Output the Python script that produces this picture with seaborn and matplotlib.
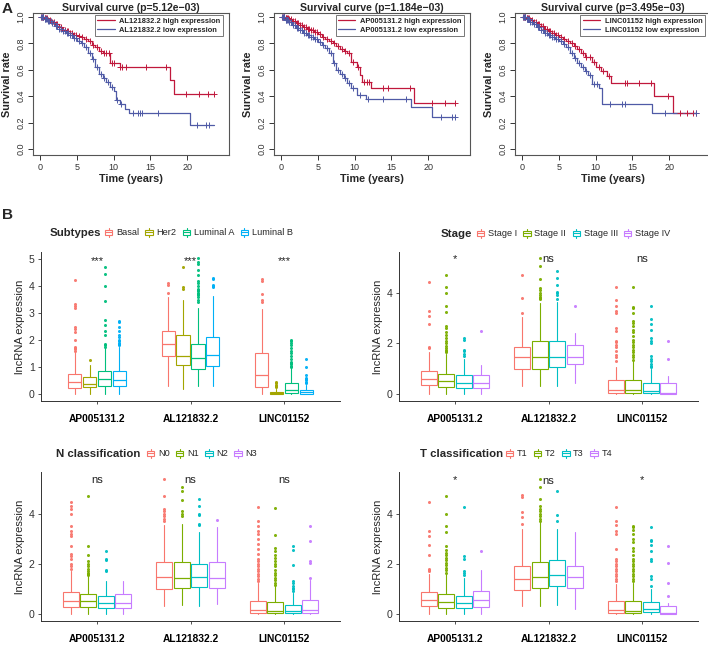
import numpy as np
import pandas as pd
import matplotlib
matplotlib.use("Agg")
import matplotlib.pyplot as plt
import seaborn as sns
from matplotlib.patches import Patch, Rectangle
from matplotlib.lines import Line2D
from matplotlib.legend_handler import HandlerBase

# ---------------- survival curves (A) ----------------
KM_GENES = ["AL121832.2", "AP005131.2", "LINC01152"]
KM_PVALS = ["5.12e\u221203", "1.184e\u221203", "3.495e\u221203"]
KM_END = [23.6, 23.6, 23.6]

AL_HIGH_T = [0, 0.5, 1.0, 1.5, 2.0, 2.5, 3.0, 3.5, 4.0, 4.5, 5.0, 5.5, 6.0, 6.5, 7.0, 7.5, 8.0, 8.5, 9.5, 10.8, 17.7, 18.2]
AL_HIGH_S = [1.0, 0.99, 0.975, 0.96, 0.945, 0.925, 0.905, 0.89, 0.875, 0.865, 0.855, 0.85, 0.83, 0.815, 0.79, 0.77, 0.745, 0.725, 0.655, 0.62, 0.52, 0.415]
AL_HIGH_C = [0.1, 0.2, 0.3, 0.4, 0.6, 0.7, 0.8, 0.9, 1.1, 1.3, 1.6, 1.8, 2.1, 2.3, 2.6, 2.8, 3.1, 3.3, 3.6, 3.8, 4.1, 4.3,
             4.6, 4.8, 5.2, 5.7, 6.2, 6.7, 7.2, 7.7, 8.2, 8.7, 9.0, 9.3, 9.8, 10.1, 10.9, 11.1, 11.7, 14.4, 17.1, 19.8, 21.6, 22.8, 23.6]
AL_LOW_T = [0, 0.5, 1.0, 1.5, 2.0, 2.5, 3.0, 3.5, 4.0, 4.5, 5.0, 5.5, 6.0, 6.5, 7.0, 7.5, 8.0, 8.5, 9.0, 9.5, 10.0, 10.3, 10.8, 11.5, 12.1, 20.4]
AL_LOW_S = [1.0, 0.985, 0.97, 0.955, 0.935, 0.91, 0.89, 0.875, 0.86, 0.84, 0.82, 0.8, 0.77, 0.73, 0.68, 0.62, 0.57, 0.54, 0.51, 0.47, 0.44, 0.37, 0.34, 0.3, 0.27, 0.18]
AL_LOW_C = [0.1, 0.2, 0.3, 0.4, 0.6, 0.7, 0.8, 0.9, 1.1, 1.2, 1.4, 1.6, 1.8, 2.1, 2.3, 2.6, 2.8, 3.1, 3.3, 3.6, 3.8, 4.1,
            4.3, 4.6, 4.8, 5.2, 5.7, 6.2, 6.7, 7.2, 7.7, 8.2, 8.7, 9.2, 9.7, 10.5, 11.0, 12.6, 13.3, 13.6, 13.9, 16.0, 21.3, 22.5, 23.0]

AP_HIGH_T = [0, 0.5, 1, 1.5, 2, 2.5, 3, 3.5, 4, 4.5, 5, 5.5, 6, 6.5, 7, 7.5, 8, 8.5, 9, 9.5, 10.3, 10.7, 11.0, 12.2, 18.1]
AP_HIGH_S = [1, 0.995, 0.985, 0.97, 0.955, 0.94, 0.925, 0.91, 0.9, 0.885, 0.87, 0.85, 0.83, 0.815, 0.8, 0.78, 0.76, 0.745, 0.73, 0.66, 0.62, 0.56, 0.51, 0.46, 0.35]
AP_HIGH_C = [0.1, 0.2, 0.3, 0.4, 0.6, 0.7, 0.8, 0.9, 1.1, 1.3, 1.6, 1.8, 2.1, 2.3, 2.6, 2.8, 3.1, 3.3, 3.6, 3.8, 4.1, 4.3,
             4.6, 4.8, 5.2, 5.7, 6.2, 6.7, 7.2, 7.7, 8.2, 8.7, 9.2, 9.8, 10.5, 11.3, 11.7, 12.0, 13.9, 14.5, 17.5, 20.5, 22.3, 23.6]
AP_LOW_T = [0, 0.5, 1, 1.5, 2, 2.5, 3, 3.5, 4, 4.5, 5, 5.5, 6, 6.5, 7, 7.5, 8, 8.5, 9, 9.5, 10.3, 11.6, 17.7, 20.5]
AP_LOW_S = [1, 0.98, 0.96, 0.94, 0.92, 0.9, 0.88, 0.86, 0.845, 0.83, 0.81, 0.79, 0.765, 0.73, 0.65, 0.6, 0.57, 0.535, 0.5, 0.465, 0.41, 0.38, 0.32, 0.24]
AP_LOW_C = [0.1, 0.2, 0.3, 0.4, 0.6, 0.7, 0.8, 0.9, 1.1, 1.3, 1.6, 1.8, 2.1, 2.3, 2.6, 2.8, 3.1, 3.3, 3.6, 3.8, 4.1, 4.3,
            4.6, 4.8, 5.2, 5.7, 6.2, 6.7, 7.2, 7.7, 8.2, 8.7, 9.2, 9.7, 10.7, 11.8, 13.8, 17.0, 21.8, 23.3, 23.6]

LI_HIGH_T = [0, 0.5, 1, 1.5, 2, 2.5, 3, 3.5, 4, 4.5, 5, 5.5, 6, 6.5, 7, 7.5, 8, 8.5, 9.5, 10, 10.7, 11.5, 12.1, 18.0, 20.5]
LI_HIGH_S = [1, 0.99, 0.975, 0.96, 0.945, 0.93, 0.91, 0.895, 0.88, 0.865, 0.85, 0.835, 0.82, 0.8, 0.78, 0.755, 0.73, 0.7, 0.66, 0.62, 0.59, 0.55, 0.5, 0.4, 0.27]
LI_HIGH_C = [0.1, 0.2, 0.3, 0.4, 0.6, 0.7, 0.8, 0.9, 1.1, 1.3, 1.6, 1.8, 2.1, 2.3, 2.6, 2.8, 3.1, 3.3, 3.6, 3.8, 4.1, 4.3,
             4.6, 4.8, 5.2, 5.7, 6.2, 6.7, 7.2, 7.7, 8.2, 8.7, 9.2, 9.8, 10.4, 11.0, 11.8, 14.0, 14.3, 15.9, 17.5, 19.8, 21.5, 22.4, 23.2, 23.6]
LI_LOW_T = [0, 0.5, 1, 1.5, 2, 2.5, 3, 3.5, 4, 4.5, 5, 5.5, 6, 6.5, 7, 7.5, 8, 8.5, 9, 9.5, 10.5, 10.8, 17.7]
LI_LOW_S = [1, 0.985, 0.965, 0.945, 0.925, 0.9, 0.88, 0.865, 0.85, 0.83, 0.815, 0.795, 0.77, 0.73, 0.69, 0.655, 0.62, 0.59, 0.56, 0.49, 0.46, 0.34, 0.27]
LI_LOW_C = [0.1, 0.2, 0.3, 0.4, 0.6, 0.7, 0.8, 0.9, 1.1, 1.3, 1.6, 1.8, 2.1, 2.3, 2.6, 2.8, 3.1, 3.3, 3.6, 3.8, 4.1, 4.3,
            4.6, 4.8, 5.2, 5.7, 6.2, 6.7, 7.2, 7.7, 8.2, 8.7, 9.2, 9.7, 10.2, 12.0, 13.6, 14.0, 19.5, 23.6]

KM_CURVES = [
    [(AL_HIGH_T, AL_HIGH_S, AL_HIGH_C), (AL_LOW_T, AL_LOW_S, AL_LOW_C)],
    [(AP_HIGH_T, AP_HIGH_S, AP_HIGH_C), (AP_LOW_T, AP_LOW_S, AP_LOW_C)],
    [(LI_HIGH_T, LI_HIGH_S, LI_HIGH_C), (LI_LOW_T, LI_LOW_S, LI_LOW_C)],
]
KM_COLORS = ["#C0183C", "#4F5AA6"]

# ---------------- box plots (B) ----------------
GENES = ["AP005131.2", "AL121832.2", "LINC01152"]

SUB_LEVELS = ["Basal", "Her2", "Luminal A", "Luminal B"]
SUB_MED = [[0.43, 0.38, 0.55, 0.52], [1.85, 1.42, 1.35, 1.45], [0.70, 0.04, 0.15, 0.07]]
SUB_Q1 = [[0.22, 0.25, 0.28, 0.30], [1.40, 1.06, 0.92, 1.05], [0.27, 0.00, 0.04, 0.00]]
SUB_Q3 = [[0.74, 0.62, 0.84, 0.84], [2.32, 2.17, 1.85, 2.10], [1.50, 0.08, 0.42, 0.16]]
SUB_LO = [[0.0, 0.0, 0.0, 0.0], [0.30, 0.20, 0.30, 0.30], [0.0, 0.0, 0.0, 0.0]]
SUB_HI = [[1.58, 1.08, 1.70, 1.75], [3.60, 3.50, 3.20, 3.62], [3.15, 0.20, 0.95, 0.35]]
SUB_OUT = [
    [[1.6, 1.65, 1.7, 1.75, 2.0, 2.3, 2.4, 2.5, 3.2, 3.25, 3.33, 4.23], [1.25],
     [1.75, 1.8, 1.85, 2.2, 2.35, 2.55, 2.75, 3.45, 4.0, 4.45, 4.7],
     [1.8, 1.85, 1.9, 1.95, 2.0, 2.1, 2.2, 2.35, 2.5, 2.65, 2.7]],
    [[3.75, 4.05, 4.1], [3.9, 3.95, 4.7],
     [3.4, 3.5, 3.6, 3.65, 3.7, 3.75, 3.8, 3.85, 3.9, 4.0, 4.1, 4.2, 4.4, 4.6, 4.8, 4.9, 5.05],
     [3.95, 4.0, 4.05, 4.25, 4.3]],
    [[3.4, 3.5, 3.7, 4.2, 4.25], [0.25, 0.3, 0.35, 0.4, 0.43],
     [1.0, 1.05, 1.1, 1.15, 1.2, 1.3, 1.4, 1.5, 1.6, 1.7, 1.8, 1.9, 1.95, 2.0],
     [0.4, 0.45, 0.5, 0.55, 0.6, 0.7, 1.0, 1.3]],
]
SUB_SIG = ["***", "***", "***"]

STAGE_LEVELS = ["Stage I", "Stage II", "Stage III", "Stage IV"]
STAGE_MED = [[0.60, 0.50, 0.45, 0.42], [1.47, 1.47, 1.47, 1.45], [0.15, 0.15, 0.10, 0.03]]
STAGE_Q1 = [[0.34, 0.28, 0.24, 0.24], [1.00, 1.00, 1.05, 1.19], [0.05, 0.05, 0.03, 0.00]]
STAGE_Q3 = [[0.92, 0.80, 0.74, 0.74], [1.87, 2.10, 2.10, 1.92], [0.55, 0.55, 0.45, 0.43]]
STAGE_LO = [[0.0, 0.0, 0.0, 0.0], [0.30, 0.30, 0.30, 0.45], [0.0, 0.0, 0.0, 0.0]]
STAGE_HI = [[1.65, 1.60, 1.40, 1.15], [3.05, 3.60, 3.65, 2.40], [1.05, 1.30, 1.00, 0.70]]
STAGE_OUT = [
    [[1.8, 1.85, 2.75, 3.1, 3.3, 4.45],
     [1.65, 1.7, 1.75, 1.8, 1.9, 2.0, 2.1, 2.2, 2.35, 2.45, 2.6, 2.7, 3.25, 3.5, 4.0, 4.25, 4.7],
     [1.5, 1.6, 1.7, 1.75, 2.15, 2.2], [2.5]],
    [[3.2, 3.8, 4.7], [3.75, 3.8, 3.85, 3.9, 4.0, 4.1, 4.2, 4.55, 5.05, 5.4],
     [3.75, 3.9, 4.0, 4.05, 4.3, 4.6, 4.85], [3.5]],
    [[1.3, 1.45, 1.55, 1.7, 1.85, 1.95, 2.05, 2.1, 2.5, 2.6, 3.2, 3.3, 3.5, 3.7, 4.25],
     [1.35, 1.45, 1.55, 1.65, 1.75, 1.85, 1.95, 2.05, 2.15, 2.3, 2.45, 2.55, 2.7, 2.8, 2.9, 3.2, 3.4, 3.45, 4.25],
     [1.05, 1.1, 1.2, 1.3, 1.4, 1.5, 2.0, 2.1, 2.2, 2.55, 2.75, 2.95, 3.5], [1.38, 2.1]],
]
STAGE_SIG = ["*", "ns", "ns"]

N_LEVELS = ["N0", "N1", "N2", "N3"]
N_MED = [[0.53, 0.50, 0.43, 0.45], [1.47, 1.43, 1.47, 1.43], [0.15, 0.13, 0.10, 0.15]]
N_Q1 = [[0.26, 0.26, 0.22, 0.24], [0.98, 1.02, 1.06, 1.03], [0.04, 0.04, 0.02, 0.04]]
N_Q3 = [[0.86, 0.78, 0.73, 0.78], [2.06, 2.06, 2.00, 2.08], [0.53, 0.46, 0.35, 0.57]]
N_LO = [[0.0, 0.0, 0.0, 0.0], [0.30, 0.35, 0.30, 0.38], [0.0, 0.0, 0.0, 0.0]]
N_HI = [[1.70, 1.50, 1.30, 1.30], [3.55, 3.60, 3.25, 3.45], [1.25, 1.10, 0.85, 1.35]]
N_OUT = [
    [[1.8, 1.9, 2.0, 2.2, 2.3, 2.4, 2.7, 3.1, 3.2, 3.3, 3.5, 4.0, 4.2, 4.3, 4.45],
     [1.55, 1.6, 1.65, 1.7, 1.8, 1.9, 2.0, 2.1, 2.35, 2.7, 4.7],
     [1.7, 1.75, 2.15, 2.2, 2.5], []],
    [[3.7, 3.8, 3.9, 4.0, 4.1, 4.2, 4.7, 5.4], [3.9, 4.0, 4.1, 4.55, 4.9, 5.05],
     [3.55, 3.6, 3.95, 4.0, 4.3, 4.6], [3.75]],
    [[1.3, 1.4, 1.5, 1.6, 1.7, 1.8, 1.9, 2.0, 2.1, 2.2, 2.4, 2.6, 2.8, 3.0, 3.2, 3.3, 3.5, 3.7, 4.25],
     [1.15, 1.25, 1.35, 1.45, 1.55, 1.65, 1.75, 1.9, 2.0, 2.1, 2.25, 2.35, 2.5, 2.65, 3.15, 4.22],
     [0.9, 1.0, 1.05, 1.1, 1.25, 1.3, 1.95, 2.55, 2.7], [1.45, 2.05, 2.1, 2.9, 3.5]],
]
N_SIG = ["ns", "ns", "ns"]

T_LEVELS = ["T1", "T2", "T3", "T4"]
T_MED = [[0.57, 0.48, 0.45, 0.55], [1.40, 1.47, 1.57, 1.47], [0.15, 0.13, 0.20, 0.04]]
T_Q1 = [[0.33, 0.25, 0.22, 0.29], [0.95, 1.03, 1.12, 1.02], [0.04, 0.04, 0.07, 0.00]]
T_Q3 = [[0.86, 0.78, 0.73, 0.90], [1.92, 2.08, 2.16, 1.92], [0.53, 0.53, 0.48, 0.33]]
T_LO = [[0.0, 0.0, 0.0, 0.0], [0.30, 0.30, 0.35, 0.20], [0.0, 0.0, 0.0, 0.0]]
T_HI = [[1.60, 1.60, 1.45, 1.75], [3.40, 3.65, 3.40, 3.27], [1.20, 1.25, 1.00, 0.45]]
T_OUT = [
    [[1.7, 1.75, 1.8, 2.35, 2.75, 3.1, 3.3, 4.45],
     [1.65, 1.75, 1.85, 1.95, 2.05, 2.15, 2.25, 2.35, 2.45, 2.55, 2.7, 3.25, 3.5, 4.0, 4.7],
     [1.55, 1.65, 1.7, 2.2, 2.3, 4.25], [2.5]],
    [[3.6, 3.85, 4.05, 4.65, 4.75], [3.7, 3.8, 3.9, 4.0, 4.1, 4.2, 4.3, 4.6, 5.05, 5.4],
     [3.7, 3.95, 4.9], []],
    [[1.3, 1.4, 1.5, 1.6, 1.7, 1.8, 1.9, 2.0, 2.1, 2.2, 2.6, 3.2, 3.3, 3.55, 3.7, 4.25],
     [1.3, 1.4, 1.5, 1.6, 1.7, 1.8, 1.9, 2.0, 2.1, 2.2, 2.35, 2.5, 2.65, 2.85, 3.0, 3.2, 3.35, 3.45, 3.5],
     [1.1, 1.4, 1.5, 2.1, 2.2, 2.5, 2.75, 2.9, 2.95, 3.45], [0.7, 1.25, 2.05, 2.7]],
]
T_SIG = ["*", "ns", "*"]

SUB_COLORS = ["#F8766D", "#A3A500", "#00BF7D", "#00B0F6"]
STD_COLORS = ["#F8766D", "#7CAE00", "#00BFC4", "#C77CFF"]


class BoxKey(HandlerBase):
    def create_artists(self, legend, orig_handle, xdescent, ydescent, width, height, fontsize, trans):
        c = orig_handle.get_edgecolor()
        x0 = -xdescent + width * 0.1
        w = width * 0.8
        y0 = -ydescent + height * 0.15
        h = height * 0.7
        xm = x0 + w / 2
        arts = [
            Rectangle((x0, y0), w, h, facecolor="white", edgecolor=c, lw=0.8, transform=trans),
            Line2D([x0, x0 + w], [y0 + h / 2] * 2, color=c, lw=0.8, transform=trans),
            Line2D([xm, xm], [-ydescent - height * 0.1, y0], color=c, lw=0.8, transform=trans),
            Line2D([xm, xm], [y0 + h, -ydescent + height * 1.1], color=c, lw=0.8, transform=trans),
        ]
        return arts


sns.set_theme(style="white")
plt.rcParams["font.family"] = ["Liberation Sans", "DejaVu Sans"]
plt.rcParams["axes.unicode_minus"] = True

W, H = 708, 646
fig = plt.figure(figsize=(W / 100, H / 100), dpi=100)


def fig_rect(left, right, top, bottom):
    return [left / W, (H - bottom) / H, (right - left) / W, (bottom - top) / H]


# ---- panel A ----
km_lefts = [33, 274, 515]
for i in range(3):
    ax = fig.add_axes(fig_rect(km_lefts[i], km_lefts[i] + 196, 13, 155))
    labels = [KM_GENES[i] + " high expression", KM_GENES[i] + " low expression"]
    for j, (t, s, c) in enumerate(KM_CURVES[i]):
        df = pd.DataFrame({"time": list(t) + [KM_END[i]], "surv": list(s) + [s[-1]]})
        sns.lineplot(data=df, x="time", y="surv", drawstyle="steps-post", estimator=None,
                     color=KM_COLORS[j], lw=0.9, ax=ax, label=labels[j])
        idx = np.searchsorted(np.array(t), np.array(c), side="right") - 1
        cens = pd.DataFrame({"time": c, "surv": np.array(s)[idx]})
        sns.scatterplot(data=cens, x="time", y="surv", marker="+", s=16, linewidth=0.7,
                        color=KM_COLORS[j], ax=ax, legend=False, zorder=3)
    ax.set_xlim(-1.0, 25.7)
    ax.set_ylim(-0.045, 1.03)
    ax.set_xticks([0, 5, 10, 15, 20])
    ax.set_yticks([0.0, 0.2, 0.4, 0.6, 0.8, 1.0])
    ax.set_yticklabels(["0.0", "0.2", "0.4", "0.6", "0.8", "1.0"], rotation=90, va="center")
    ax.tick_params(axis="both", which="both", direction="out", length=3.5, width=0.7,
                   labelsize=6.5, labelcolor="#333333", color="#333333", left=True, bottom=True, pad=2)
    for sp in ax.spines.values():
        sp.set_visible(True)
        sp.set_color("#555555")
        sp.set_linewidth(0.8)
    ax.set_xlabel("Time (years)", fontsize=7.8, fontweight="bold", labelpad=2)
    ax.set_ylabel("Survival rate", fontsize=7.8, fontweight="bold", labelpad=3)
    ax.set_title("Survival curve (p=" + KM_PVALS[i] + ")", fontsize=7.6, fontweight="bold", pad=1.5)
    leg = ax.legend(loc="upper right", bbox_to_anchor=(0.97, 0.985), fontsize=5.4, frameon=True,
                    fancybox=False, borderpad=0.35, handlelength=2.3, handletextpad=0.6,
                    labelspacing=0.2, borderaxespad=0)
    leg.get_frame().set_edgecolor("#555555")
    leg.get_frame().set_linewidth(0.7)
    for txt in leg.get_texts():
        txt.set_fontweight("bold")
    ax.grid(False)

fig.text(2 / W, 1 - 9 / H, "A", fontsize=11, fontweight="bold", va="center", ha="left")
fig.text(2 / W, 1 - 215 / H, "B", fontsize=11, fontweight="bold", va="center", ha="left")

# ---- panel B ----
BOX_PANELS = [
    dict(rect=(41, 340, 252, 401), ylim=(-0.26, 5.26), yt=[0, 1, 2, 3, 4, 5], title="Subtypes",
         levels=SUB_LEVELS, colors=SUB_COLORS, med=SUB_MED, q1=SUB_Q1, q3=SUB_Q3, lo=SUB_LO, hi=SUB_HI,
         out=SUB_OUT, sig=SUB_SIG, sig_y=4.8, step=0.16, width=0.14, tx=50, lx=104, ly=233),
    dict(rect=(399, 698, 252, 401), ylim=(-0.28, 5.62), yt=[0, 2, 4], title="Stage",
         levels=STAGE_LEVELS, colors=STD_COLORS, med=STAGE_MED, q1=STAGE_Q1, q3=STAGE_Q3, lo=STAGE_LO,
         hi=STAGE_HI, out=STAGE_OUT, sig=STAGE_SIG, sig_y=5.23, step=0.1875, width=0.17, tx=441, lx=476, ly=234),
    dict(rect=(41, 340, 472, 621), ylim=(-0.28, 5.66), yt=[0, 2, 4], title="N classification",
         levels=N_LEVELS, colors=STD_COLORS, med=N_MED, q1=N_Q1, q3=N_Q3, lo=N_LO, hi=N_HI,
         out=N_OUT, sig=N_SIG, sig_y=5.23, step=0.1875, width=0.17, tx=56, lx=146, ly=454),
    dict(rect=(399, 698, 472, 621), ylim=(-0.28, 5.66), yt=[0, 2, 4], title="T classification",
         levels=T_LEVELS, colors=STD_COLORS, med=T_MED, q1=T_Q1, q3=T_Q3, lo=T_LO, hi=T_HI,
         out=T_OUT, sig=T_SIG, sig_y=5.2, step=0.1875, width=0.17, tx=420, lx=505, ly=454),
]

for p in BOX_PANELS:
    l, r, t, b = p["rect"]
    ax = fig.add_axes(fig_rect(l, r, t, b))
    ng = len(p["levels"])
    for k in range(ng):
        col = p["colors"][k]
        stats = []
        for g in range(len(GENES)):
            stats.append(dict(med=p["med"][g][k], q1=p["q1"][g][k], q3=p["q3"][g][k],
                              whislo=p["lo"][g][k], whishi=p["hi"][g][k], fliers=p["out"][g][k]))
        pos = [g + 1 + (k - (ng - 1) / 2) * p["step"] for g in range(len(GENES))]
        ax.bxp(stats, positions=pos, widths=p["width"], showcaps=False, patch_artist=True,
               boxprops=dict(facecolor="white", edgecolor=col, lw=0.8),
               medianprops=dict(color=col, lw=0.9),
               whiskerprops=dict(color=col, lw=0.8),
               flierprops=dict(marker="o", markerfacecolor=col, markeredgecolor=col,
                               markersize=2.2, markeredgewidth=0, alpha=0.95),
               manage_ticks=False)
    ax.set_xlim(0.4, 3.6)
    ax.set_ylim(*p["ylim"])
    ax.set_xticks([1, 2, 3])
    ax.set_xticklabels(GENES, fontsize=7.4, fontweight="bold", color="black")
    ax.set_yticks(p["yt"])
    ax.set_yticklabels([str(v) for v in p["yt"]], fontsize=7.6, color="#333333")
    ax.tick_params(axis="both", direction="out", length=2.5, width=0.6, color="#333333",
                   left=True, bottom=True, pad=2)
    ax.tick_params(axis="x", pad=7)
    sns.despine(ax=ax)
    for sp in ["left", "bottom"]:
        ax.spines[sp].set_color("#333333")
        ax.spines[sp].set_linewidth(0.7)
    ax.set_ylabel("lncRNA expression", fontsize=8, labelpad=3)
    ax.grid(False)
    for g in range(len(GENES)):
        ax.text(g + 1, p["sig_y"], p["sig"][g], ha="center", va="baseline", fontsize=8, color="#222222")

    fig.text(p["tx"] / W, 1 - p["ly"] / H, p["title"], fontsize=8.2, fontweight="bold",
             ha="left", va="center")
    handles = [Patch(facecolor="white", edgecolor=c, label=lab) for c, lab in zip(p["colors"], p["levels"])]
    fig.legend(handles=handles, handler_map={Patch: BoxKey()}, loc="center left",
               bbox_to_anchor=(p["lx"] / W, 1 - p["ly"] / H), ncol=ng, frameon=False,
               fontsize=6.6, borderpad=0, handlelength=1.0, handleheight=0.9, handletextpad=0.3,
               columnspacing=0.6, borderaxespad=0)

fig.savefig("out.png", dpi=100)
plt.close(fig)
